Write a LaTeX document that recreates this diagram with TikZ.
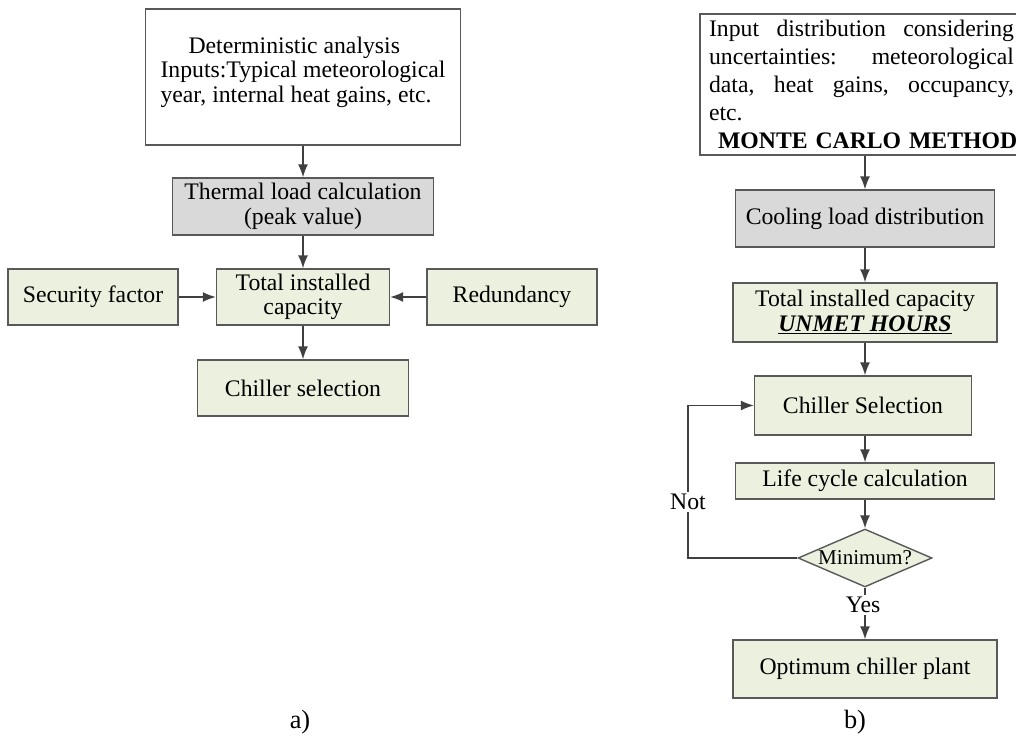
\documentclass[tikz,border=0pt]{standalone}
\usepackage{fontspec}
\setmainfont{Liberation Serif}
\usetikzlibrary{shapes.geometric,arrows.meta}
\definecolor{boxgreen}{HTML}{EBF1DE}
\definecolor{boxgray}{HTML}{D9D9D9}
\definecolor{edge}{HTML}{595959}

\begin{document}
\begin{tikzpicture}[x=0.02cm,y=-0.02cm,
  font=\fontsize{13.5}{14}\selectfont,
  boxbase/.style={draw=edge,line width=0.8pt,inner sep=2pt,align=center},
  whitebox/.style={boxbase,fill=white},
  graybox/.style={boxbase,fill=boxgray},
  greenbox/.style={boxbase,fill=boxgreen},
  decide/.style={boxbase,diamond,fill=boxgreen,aspect=2.3,inner sep=0pt,font=\fontsize{12}{13}\selectfont},
  arr/.style={draw=black!75,line width=0.8pt,-{Latex[length=0.26cm,width=0.2cm]}},
  tag/.style={fill=white,inner sep=1pt}]
\useasboundingbox (0,0) rectangle (1016,742);
\clip (0,0) rectangle (1016,742);

% a) deterministic design
\node[whitebox,minimum width=6.3cm,minimum height=2.72cm,align=left] (det_a) at (303,77) {\hspace*{0.56cm}Deterministic analysis\\Inputs:Typical meteorological\\year, internal heat gains, etc.\\[-0.2cm]};
\node[graybox,minimum width=5.22cm,minimum height=1.14cm] (thermal_a) at (303,206.5) {Thermal load calculation\\(peak value)};
\node[greenbox,minimum width=3.46cm,minimum height=1.12cm] (total_a) at (303,297) {Total installed\\capacity};
\node[greenbox,minimum width=3.4cm,minimum height=1.12cm] (safety_a) at (93,297) {Security factor};
\node[greenbox,minimum width=3.4cm,minimum height=1.12cm] (redund_a) at (512,297) {Redundancy};
\node[greenbox,minimum width=4.22cm,minimum height=1.12cm] (chiller_a) at (303,388) {Chiller selection};
\node (cap_a) at (300,722) {\fontsize{15}{16}\selectfont a)};

\draw[arr] (det_a) -- (thermal_a);
\draw[arr] (thermal_a) -- (total_a);
\draw[arr] (safety_a) -- (total_a);
\draw[arr] (redund_a) -- (total_a);
\draw[arr] (total_a) -- (chiller_a);

% b) stochastic design
\node[whitebox,minimum width=6.6cm,minimum height=2.82cm,text width=6.24cm,align=left,font=\fontsize{13.5}{16}\selectfont] (input_b) at (865,84.5) {\makebox[6.1cm][s]{Input\hfill distribution\hfill considering}\\\makebox[6.1cm][s]{uncertainties:\hfill meteorological}\\\makebox[6.1cm][s]{data,\hfill heat\hfill gains,\hfill occupancy,}\\etc.\\\hspace*{0.18cm}\textbf{MONTE CARLO METHOD}};
\node[graybox,minimum width=5.18cm,minimum height=1.14cm] (cool_b) at (865,218.5) {Cooling load distribution};
\node[greenbox,minimum width=5.28cm,minimum height=1.18cm] (total_b) at (865,312.5) {Total installed capacity\\\underline{\textbf{\textit{UNMET HOURS}}}};
\node[greenbox,minimum width=4.34cm,minimum height=1.18cm] (chiller_b) at (863,405.5) {Chiller Selection};
\node[greenbox,minimum width=5.18cm,minimum height=0.72cm] (life_b) at (865,481) {Life cycle calculation};
\node[decide,minimum width=2.68cm,minimum height=1.16cm] (min_b) at (865,558) {Minimum?};
\node[greenbox,minimum width=5.28cm,minimum height=1.16cm] (best_b) at (865,669) {Optimum chiller plant};
\coordinate (back_b) at (688,558);
\node (cap_b) at (855,722) {\fontsize{15}{16}\selectfont b)};

\draw[arr] (input_b) -- (cool_b);
\draw[arr] (cool_b) -- (total_b);
\draw[arr] (total_b) -- (total_b |- chiller_b.north);
\draw[arr] (chiller_b.south -| life_b) -- (life_b);
\draw[arr] (life_b) -- (min_b);
\draw[arr] (min_b.west) -- (back_b) |- (chiller_b.west);
\node[tag] (not_b) at (688,502) {Not};
\draw[arr] (min_b) -- (best_b);
\node[tag] (yes_b) at (863,605) {Yes};
\end{tikzpicture}
\end{document}
